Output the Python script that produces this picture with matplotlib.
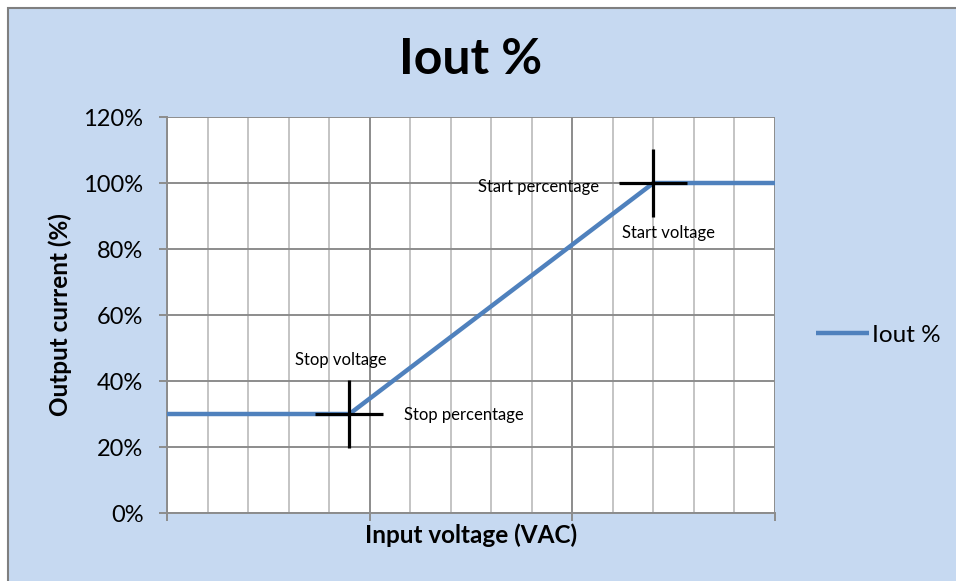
import matplotlib
matplotlib.use("Agg")
import matplotlib.pyplot as plt
from matplotlib.patches import Rectangle
from matplotlib.ticker import MultipleLocator, FuncFormatter

plt.rcParams['font.family'] = ['Lato', 'DejaVu Sans']

# curve: input voltage (arbitrary units) vs output current (%)
volt = [0, 4.5, 12.0, 15]
iout = [30, 30, 100, 100]

# stop / start points
stop_pt = (4.5, 30)
start_pt = (12.0, 100)

y_ticks = [0, 20, 40, 60, 80, 100, 120]

bg = '#C6D9F1'
line_col = '#4F81BD'

fig = plt.figure(figsize=(9.56, 5.81), dpi=100, facecolor='white')
# chart frame (starts a bit inside the image, runs off bottom/right)
frame = Rectangle((8 / 956, -0.1), 1.2, 1 - 7.5 / 581 + 0.1,
                  transform=fig.transFigure, facecolor=bg,
                  edgecolor='#7f7f7f', linewidth=1.5, zorder=-10)
fig.add_artist(frame)

ax = fig.add_axes([167 / 956, 68 / 581, 608 / 956, 396 / 581])
ax.set_facecolor('white')

ax.plot(volt, iout, color=line_col, linewidth=3.2, solid_capstyle='butt',
        label='Iout %', zorder=3)
for pt in (stop_pt, start_pt):
    ax.plot(*pt, marker='+', markersize=49, markeredgewidth=2.3,
            color='black', zorder=4)

ax.set_xlim(0, 15)
ax.set_ylim(0, 120)
ax.set_yticks(y_ticks)
ax.yaxis.set_major_formatter(FuncFormatter(lambda v, p: f'{v:.0f}%'))
ax.xaxis.set_major_locator(MultipleLocator(5))
ax.xaxis.set_minor_locator(MultipleLocator(1))
ax.set_xticklabels([])

ax.grid(axis='y', which='major', color='#8c8c8c', linewidth=1.4)
ax.grid(axis='x', which='major', color='#8c8c8c', linewidth=1.4)
ax.grid(axis='x', which='minor', color='#c4c4c4', linewidth=1.4)
ax.set_axisbelow(True)

for s in ['top', 'right']:
    ax.spines[s].set_visible(False)
for s in ['left', 'bottom']:
    ax.spines[s].set_color('#8c8c8c')
    ax.spines[s].set_linewidth(1.4)
ax.tick_params(axis='both', which='major', length=6, width=1.4,
               color='#8c8c8c')
ax.tick_params(axis='y', labelsize=17, pad=11)
ax.tick_params(axis='x', which='minor', length=0)

ax.set_xlabel('Input voltage (VAC)', fontsize=17.5, fontweight='bold', labelpad=-2)
ax.set_ylabel('Output current (%)', fontsize=17.5, fontweight='bold', labelpad=8)
ax.set_title('Iout %', fontsize=36, fontweight='bold', pad=31)

fs = 12
ax.text(4.29, 46.4, 'Stop voltage', fontsize=fs, ha='center', va='center')
ax.text(5.85, 29.7, 'Stop percentage', fontsize=fs, ha='left', va='center')
ax.text(10.66, 98.8, 'Start percentage', fontsize=fs, ha='right', va='center')
ax.text(11.23, 84.8, 'Start voltage', fontsize=fs, ha='left', va='center')

fig.legend(loc='center left', bbox_to_anchor=(794 / 956, 1 - 335 / 581),
           frameon=False, fontsize=17.5, handlelength=2.2, handletextpad=0.1)

fig.savefig('out.png', dpi=100, facecolor=fig.get_facecolor())
